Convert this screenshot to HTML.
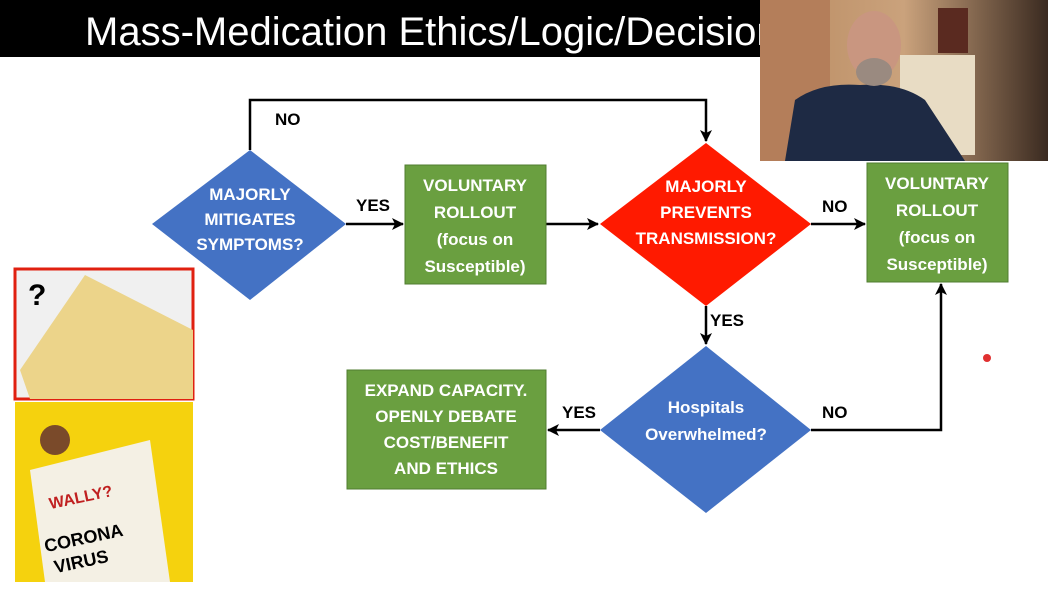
<!DOCTYPE html>
<html><head><meta charset="utf-8"><style>
html,body{margin:0;padding:0;background:#fff}
svg{display:block}
text{font-family:"Liberation Sans",sans-serif}
.b{font-weight:bold;font-size:17px;fill:#fff;text-anchor:middle}
.l{font-weight:bold;font-size:17px;fill:#000}
</style></head><body>
<svg width="1048" height="590" viewBox="0 0 1048 590">
<defs>
<marker id="a" markerWidth="12" markerHeight="12" refX="11" refY="6" orient="auto" markerUnits="userSpaceOnUse"><path d="M0,0 L12,6 L0,12 L3,6 Z" fill="#000"/></marker>
<linearGradient id="w" x1="0" x2="1"><stop offset="0" stop-color="#b98a60"/><stop offset="0.5" stop-color="#caa27c"/><stop offset="1" stop-color="#3a2a20"/></linearGradient>
</defs>
<rect x="0" y="0" width="760" height="57" fill="#000"/>
<text x="85" y="45" font-size="40" fill="#fff">Mass-Medication Ethics/Logic/Decision</text>
<rect x="760" y="0" width="288" height="161" fill="url(#w)"/>
<rect x="760" y="0" width="70" height="161" fill="#b47e5a"/>
<rect x="900" y="55" width="75" height="100" fill="#e8dcc4"/>
<rect x="938" y="8" width="30" height="45" fill="#5a2a20"/>
<path d="M785,161 L795,100 Q820,82 860,85 Q900,82 925,100 L965,161 Z" fill="#1e2a44"/>
<ellipse cx="874" cy="45" rx="27" ry="34" fill="#c99680"/>
<ellipse cx="874" cy="72" rx="18" ry="14" fill="#9a8a80"/>
<g stroke="#000" stroke-width="2.5" fill="none">
<path d="M250,150 V100 H706 V141" marker-end="url(#a)"/>
<path d="M346,224 H403" marker-end="url(#a)"/>
<path d="M546,224 H598" marker-end="url(#a)"/>
<path d="M811,224 H865" marker-end="url(#a)"/>
<path d="M706,306 V344" marker-end="url(#a)"/>
<path d="M600,430 H548" marker-end="url(#a)"/>
<path d="M811,430 H941 V284" marker-end="url(#a)"/>
</g>
<polygon points="250,150 346,224 250,300 152,224" fill="#4472c4"/>
<rect x="405" y="165" width="141" height="119" fill="#6a9f40" stroke="#507e30"/>
<polygon points="706,143 811,224 706,306 600,224" fill="#ff1a00"/>
<rect x="867" y="163" width="141" height="119" fill="#6a9f40" stroke="#507e30"/>
<polygon points="706,346 811,430 706,513 600,430" fill="#4472c4"/>
<rect x="347" y="370" width="199" height="119" fill="#6a9f40" stroke="#507e30"/>
<text class="b" x="250" y="200">MAJORLY</text><text class="b" x="250" y="225">MITIGATES</text><text class="b" x="250" y="250">SYMPTOMS?</text>
<text class="b" x="475" y="191">VOLUNTARY</text><text class="b" x="475" y="218">ROLLOUT</text><text class="b" x="475" y="245">(focus on</text><text class="b" x="475" y="272">Susceptible)</text>
<text class="b" x="706" y="192">MAJORLY</text><text class="b" x="706" y="218">PREVENTS</text><text class="b" x="706" y="244">TRANSMISSION?</text>
<text class="b" x="937" y="189">VOLUNTARY</text><text class="b" x="937" y="216">ROLLOUT</text><text class="b" x="937" y="243">(focus on</text><text class="b" x="937" y="270">Susceptible)</text>
<text class="b" x="706" y="413">Hospitals</text><text class="b" x="706" y="440">Overwhelmed?</text>
<text class="b" x="446" y="396">EXPAND CAPACITY.</text><text class="b" x="446" y="422">OPENLY DEBATE</text><text class="b" x="446" y="448">COST/BENEFIT</text><text class="b" x="446" y="474">AND ETHICS</text>
<text class="l" x="275" y="125">NO</text>
<text class="l" x="356" y="211">YES</text>
<text class="l" x="822" y="212">NO</text>
<text class="l" x="710" y="326">YES</text>
<text class="l" x="562" y="418">YES</text>
<text class="l" x="822" y="418">NO</text>
<rect x="15" y="269" width="178" height="130" fill="#f0f0f0" stroke="#e02010" stroke-width="3"/>
<polygon points="85,275 193,330 193,399 30,399 20,370" fill="#ecd48a"/>
<text x="28" y="305" font-size="30" font-weight="bold" fill="#000">?</text>
<rect x="15" y="402" width="178" height="180" fill="#f5d20e"/>
<polygon points="30,470 150,440 170,582 45,582" fill="#f4f0e4"/>
<circle cx="55" cy="440" r="15" fill="#7a4a2a"/>
<text x="50" y="505" font-size="16" font-weight="bold" fill="#c02020" transform="rotate(-12 70 505)">WALLY?</text>
<text x="45" y="545" font-size="18" font-weight="bold" fill="#000" transform="rotate(-12 80 545)">CORONA</text>
<text x="55" y="568" font-size="18" font-weight="bold" fill="#000" transform="rotate(-12 80 568)">VIRUS</text>
<circle cx="987" cy="358" r="4" fill="#e03030"/>
</svg>
</body></html>
